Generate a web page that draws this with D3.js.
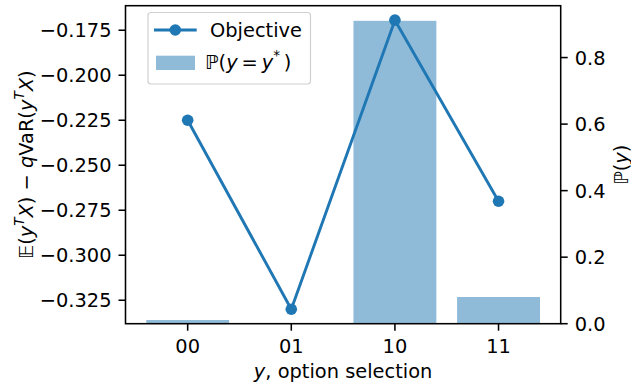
<!DOCTYPE html>
<html>
<head>
<meta charset="utf-8">
<script src="https://cdn.jsdelivr.net/npm/d3@7"></script>
<style>
  html, body { margin: 0; padding: 0; background: #fff; }
  svg text { font-family: "DejaVu Sans", sans-serif; }
</style>
</head>
<body>
<svg id="chart" width="631" height="383"></svg>
<script>
// ---- data ----
const categories = ["00", "01", "10", "11"];
const objective = [-0.225, -0.330, -0.1694, -0.270];
const probability = [0.011, 0.0, 0.9104, 0.0803];
const leftTicks = [-0.325, -0.300, -0.275, -0.250, -0.225, -0.200, -0.175];
const rightTicks = [0.0, 0.2, 0.4, 0.6, 0.8];

const W = 631, H = 383;
const plot = { left: 125.5, right: 560.7, top: 5.7, bottom: 323.7 };
const FS = 19.4;
const blue = "#1f77b4";
const barColor = "#8fbbd9";
const tickLen = 7, tickPad = 7;

const svg = d3.select("#chart");

const x = d3.scaleLinear().domain([-0.6, categories.length - 1 + 0.6]).range([plot.left, plot.right]);
const objMin = d3.min(objective), objMax = d3.max(objective);
const m = (objMax - objMin) * 0.05;
const yL = d3.scaleLinear().domain([objMin - m, objMax + m]).range([plot.bottom, plot.top]);
const yR = d3.scaleLinear().domain([0, d3.max(probability) * 1.05]).range([plot.bottom, plot.top]);

// bars
svg.append("g").selectAll("rect").data(probability).join("rect")
  .attr("x", (d, i) => x(i - 0.4))
  .attr("width", (d, i) => x(i + 0.4) - x(i - 0.4))
  .attr("y", d => yR(d))
  .attr("height", d => yR(0) - yR(d))
  .attr("fill", barColor);

// line
const line = d3.line().x((d, i) => x(i)).y(d => yL(d));
svg.append("path").datum(objective)
  .attr("d", line).attr("fill", "none").attr("stroke", blue)
  .attr("stroke-width", 2.9).attr("stroke-linejoin", "round").attr("stroke-linecap", "butt");
svg.append("g").selectAll("circle").data(objective).join("circle")
  .attr("cx", (d, i) => x(i)).attr("cy", d => yL(d)).attr("r", 5.8).attr("fill", blue);

// spines
const sp = svg.append("g").attr("stroke", "#000").attr("stroke-width", 1.55).attr("fill", "none");
sp.append("rect").attr("x", plot.left).attr("y", plot.top)
  .attr("width", plot.right - plot.left).attr("height", plot.bottom - plot.top);

// left ticks
const gl = svg.append("g");
leftTicks.forEach(t => {
  const yy = yL(t);
  gl.append("line").attr("x1", plot.left - tickLen).attr("x2", plot.left)
    .attr("y1", yy).attr("y2", yy).attr("stroke", "#000").attr("stroke-width", 1.55);
  gl.append("text").attr("x", plot.left - tickLen - tickPad).attr("y", yy + 0.3645 * FS)
    .attr("text-anchor", "end").attr("font-size", FS).text(d3.format(".3f")(t));
});
// right ticks
const gr = svg.append("g");
rightTicks.forEach(t => {
  const yy = yR(t);
  gr.append("line").attr("x1", plot.right).attr("x2", plot.right + tickLen)
    .attr("y1", yy).attr("y2", yy).attr("stroke", "#000").attr("stroke-width", 1.55);
  gr.append("text").attr("x", plot.right + tickLen + tickPad).attr("y", yy + 0.3645 * FS)
    .attr("text-anchor", "start").attr("font-size", FS).text(d3.format(".1f")(t));
});
// x ticks
const gx = svg.append("g");
categories.forEach((c, i) => {
  const xx = x(i);
  gx.append("line").attr("x1", xx).attr("x2", xx).attr("y1", plot.bottom).attr("y2", plot.bottom + tickLen)
    .attr("stroke", "#000").attr("stroke-width", 1.55);
  gx.append("text").attr("x", xx).attr("y", 353).attr("text-anchor", "middle")
    .attr("font-size", FS).text(c);
});

// x label
const xl = svg.append("text").attr("x", (plot.left + plot.right) / 2).attr("y", 378)
  .attr("text-anchor", "middle").attr("font-size", FS);
xl.append("tspan").attr("font-style", "italic").text("y");
xl.append("tspan").text(", option selection");

// helper for math-like text
function mathText(sel, parts) {
  parts.forEach(p => {
    const ts = sel.append("tspan").text(p.t);
    if (p.i) ts.attr("font-style", "italic");
    if (p.sup) ts.attr("font-size", FS * 0.7).attr("dy", -0.45 * FS);
    if (p.down) ts.attr("dy", 0.45 * FS);
    if (p.dx) ts.attr("dx", p.dx);
  });
}

// left y label
const cy = (plot.top + plot.bottom) / 2;
const ylL = svg.append("text").attr("transform", `translate(32.5,${cy}) rotate(-90)`)
  .attr("text-anchor", "middle").attr("font-size", FS);
mathText(ylL, [
  { t: "𝔼(" }, { t: "y", i: true }, { t: "T", i: true, sup: true }, { t: "X", i: true, down: true },
  { t: ") − " }, { t: "q", i: true }, { t: "VaR(" }, { t: "y", i: true },
  { t: "T", i: true, sup: true }, { t: "X", i: true, down: true }, { t: ")" }
]);

// right y label
const ylR = svg.append("text").attr("transform", `translate(627.5,${cy}) rotate(-90)`)
  .attr("text-anchor", "middle").attr("font-size", FS);
mathText(ylR, [{ t: "ℙ(" }, { t: "y", i: true }, { t: ")" }]);

// legend
const lg = svg.append("g");
lg.append("rect").attr("x", 148).attr("y", 12.5).attr("width", 162.5).attr("height", 71.5)
  .attr("rx", 3).attr("fill", "#fff").attr("fill-opacity", 0.8)
  .attr("stroke", "#d0d0d0").attr("stroke-width", 1.2);
lg.append("line").attr("x1", 154).attr("x2", 196.7).attr("y1", 30).attr("y2", 30)
  .attr("stroke", blue).attr("stroke-width", 2.9);
lg.append("circle").attr("cx", 175.3).attr("cy", 30).attr("r", 5.8).attr("fill", blue);
lg.append("text").attr("x", 210).attr("y", 36.8).attr("font-size", FS).text("Objective");
lg.append("rect").attr("x", 156).attr("y", 55.7).attr("width", 39).attr("height", 14.3).attr("fill", barColor);
const lt = lg.append("text").attr("x", 205).attr("y", 69).attr("font-size", FS);
mathText(lt, [
  { t: "ℙ(" }, { t: "y", i: true }, { t: "\u2009=\u2009" }, { t: "y", i: true },
  { t: "*", sup: true }, { t: "\u2009)", down: true }
]);
</script>
</body>
</html>
